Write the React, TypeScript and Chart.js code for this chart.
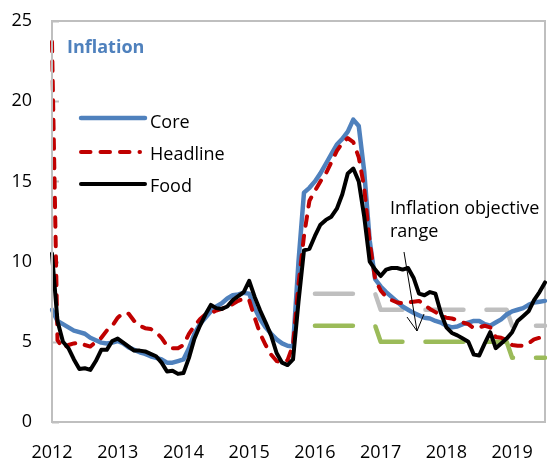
import React, { useEffect, useRef } from 'react';
import { Chart, registerables } from 'chart.js';

Chart.register(...registerables);

const FONT = '"Open Sans", "Noto Sans", sans-serif';

// Monthly categories, Jan 2012 .. Jul 2019
const START_YEAR = 2012;
const MONTH_COUNT = 91;
const months: string[] = [];
for (let i = 0; i < MONTH_COUNT; i++) {
  const y = START_YEAR + Math.floor(i / 12);
  const m = (i % 12) + 1;
  months.push(`${y}-${m < 10 ? '0' + m : m}`);
}

const seriesNames = ['Core', 'Headline', 'Food'];
const titleText = 'Inflation';
const annotationLines = ['Inflation objective', 'range'];

const core = [
  7.0, 6.3, 6.1, 5.9, 5.7, 5.6, 5.5, 5.25, 5.1, 4.95, 4.9, 4.95,
  5.05, 4.9, 4.65, 4.5, 4.35, 4.25, 4.1, 4.0, 3.9, 3.7, 3.7, 3.8,
  3.9, 4.6, 5.5, 6.1, 6.5, 6.9, 7.2, 7.4, 7.7, 7.9, 7.95, 8.05,
  8.0, 7.1, 6.4, 5.9, 5.5, 5.15, 4.9, 4.75, 4.7, 10.0, 14.3, 14.6,
  15.0, 15.5, 16.1, 16.7, 17.3, 17.65, 18.1, 18.85, 18.45, 15.6, 11.3, 8.9,
  8.45, 8.1, 7.8, 7.5, 7.2, 7.0, 6.8, 6.65, 6.5, 6.45, 6.3, 6.2,
  6.0, 5.9, 5.95, 6.1, 6.2, 6.3, 6.3, 6.1, 6.0, 6.2, 6.4, 6.7,
  6.9, 7.0, 7.1, 7.3, 7.45, 7.5, 7.55,
];

const headline = [
  23.7, 5.1, 4.6, 4.8, 4.9, 4.95, 4.8, 4.7, 5.0, 5.25, 5.7, 6.0,
  6.5, 6.8, 6.75, 6.3, 6.0, 5.85, 5.8, 5.6, 5.25, 4.75, 4.6, 4.6,
  4.8, 5.5, 6.0, 6.4, 6.7, 6.8, 6.95, 7.05, 7.2, 7.35, 7.55, 7.7,
  7.6, 6.5, 5.5, 4.8, 4.2, 3.8, 3.7, 3.85, 4.8, 8.6, 11.6, 13.8,
  14.4, 15.0, 15.5, 16.2, 16.9, 17.4, 17.7, 17.45, 16.5, 14.6, 11.2, 8.9,
  8.2, 7.8, 7.6, 7.45, 7.4, 7.45, 7.5, 7.55, 7.3, 7.05, 6.85, 6.65,
  6.5, 6.45, 6.35, 6.2, 6.1, 5.85, 5.9, 6.0, 5.9, 5.3, 5.25, 5.1,
  4.8, 4.75, 4.75, 4.9, 5.15, 5.25, 5.25,
];

const food = [
  10.5, 6.3, 5.0, 4.6, 3.9, 3.3, 3.35, 3.25, 3.8, 4.5, 4.5, 5.05,
  5.2, 4.95, 4.7, 4.45, 4.45, 4.4, 4.25, 4.1, 3.7, 3.15, 3.2, 3.0,
  3.05, 4.0, 5.2, 6.0, 6.7, 7.3, 7.1, 7.05, 7.2, 7.6, 7.85, 8.1,
  8.8, 7.8, 6.95, 6.2, 5.4, 4.3, 3.7, 3.55, 3.9, 7.5, 10.7, 10.8,
  11.6, 12.3, 12.6, 12.8, 13.3, 14.2, 15.5, 15.8, 15.0, 12.8, 10.0, 9.5,
  9.1, 9.5, 9.6, 9.6, 9.5, 9.6, 9.0, 8.0, 7.9, 8.1, 8.0, 6.8,
  5.9, 5.55, 5.4, 5.2, 5.0, 4.2, 4.15, 4.9, 5.6, 4.6, 4.9, 5.2,
  5.6, 6.3, 6.6, 6.9, 7.6, 8.1, 8.7,
];

// Inflation objective range (upper and lower bounds)
const rangeUpper = [
  { x: '2016-01', y: 8 }, { x: '2016-12', y: 8 },
  { x: '2017-01', y: 7 }, { x: '2018-12', y: 7 },
  { x: '2019-01', y: 6 }, { x: '2019-07', y: 6 },
];
const rangeLower = [
  { x: '2016-01', y: 6 }, { x: '2016-12', y: 6 },
  { x: '2017-01', y: 5 }, { x: '2018-12', y: 5 },
  { x: '2019-01', y: 4 }, { x: '2019-07', y: 4 },
];

const yTicks = { min: 0, max: 25, step: 5 };

const COLORS = {
  core: '#4F81BD',
  headline: '#C00000',
  food: '#000000',
  upper: '#BFBFBF',
  lower: '#9BBB59',
  axis: '#BFBFBF',
  text: '#000000',
};

const overlayPlugin = {
  id: 'overlay',
  beforeDatasetsDraw(chart: any) {
    const { ctx, chartArea: ca, scales } = chart;
    ctx.save();
    ctx.strokeStyle = COLORS.axis;
    ctx.lineWidth = 2;
    ctx.beginPath();
    ctx.moveTo(ca.left, ca.top);
    ctx.lineTo(ca.right, ca.top);
    ctx.lineTo(ca.right, ca.bottom);
    ctx.stroke();
    const ys = scales.y;
    ctx.beginPath();
    ys.ticks.forEach((t: any) => {
      const py = Math.round(ys.getPixelForValue(t.value)) + 0.5;
      ctx.moveTo(ca.left, py);
      ctx.lineTo(ca.left + 7, py);
    });
    ctx.stroke();
    ctx.restore();
  },
  afterDraw(chart: any) {
    const { ctx, chartArea: ca } = chart;
    const L = ca.left;
    const T = ca.top;
    ctx.save();
    // Title
    ctx.font = `bold 18px ${FONT}`;
    ctx.fillStyle = COLORS.core;
    ctx.textBaseline = 'alphabetic';
    ctx.textAlign = 'left';
    ctx.fillText(titleText, L + 15, T + 32);

    // Legend
    const order = [2, 1, 0]; // dataset indices: Core, Headline, Food
    const lineYs = [T + 97, T + 131, T + 163];
    const textYs = [T + 107, T + 139, T + 171];
    order.forEach((di, i) => {
      const ds = chart.data.datasets[di];
      ctx.save();
      ctx.strokeStyle = ds.borderColor;
      ctx.lineWidth = ds.borderWidth;
      ctx.lineCap = 'round';
      ctx.setLineDash(ds.borderDash || []);
      ctx.beginPath();
      const x0 = L + 29;
      const x1 = ds.borderDash ? L + 88 : L + 93;
      ctx.moveTo(x0, lineYs[i]);
      ctx.lineTo(x1, lineYs[i]);
      ctx.stroke();
      ctx.restore();
      ctx.font = `18px ${FONT}`;
      ctx.fillStyle = COLORS.text;
      ctx.fillText(ds.label, L + 98, textYs[i]);
    });

    // Annotation text and arrow
    ctx.font = `18px ${FONT}`;
    ctx.fillStyle = COLORS.text;
    ctx.fillText(annotationLines[0], L + 338, T + 193);
    ctx.fillText(annotationLines[1], L + 338, T + 216);
    ctx.strokeStyle = '#000';
    ctx.lineWidth = 1;
    ctx.beginPath();
    const ax0 = L + 352, ay0 = T + 231, ax1 = L + 365, ay1 = T + 310;
    ctx.moveTo(ax0, ay0);
    ctx.lineTo(ax1, ay1);
    ctx.moveTo(L + 355, T + 296);
    ctx.lineTo(ax1, ay1);
    ctx.lineTo(L + 372, T + 293);
    ctx.stroke();
    ctx.restore();
  },
};

export default function App() {
  const ref = useRef<HTMLCanvasElement | null>(null);

  useEffect(() => {
    document.body.style.margin = '0';
    document.body.style.overflow = 'hidden';
    const canvas = ref.current;
    if (!canvas) return;
    const base = {
      pointRadius: 0,
      pointHoverRadius: 0,
      tension: 0,
      fill: false,
      borderJoinStyle: 'round' as const,
      borderCapStyle: 'round' as const,
    };
    const chart = new Chart(canvas, {
      type: 'line',
      data: {
        labels: months,
        datasets: [
          { ...base, label: seriesNames[2], data: food, borderColor: COLORS.food, borderWidth: 4 },
          { ...base, label: seriesNames[1], data: headline, borderColor: COLORS.headline, borderWidth: 4, borderDash: [9.5, 10] },
          { ...base, label: seriesNames[0], data: core, borderColor: COLORS.core, borderWidth: 4.5 },
          { ...base, label: 'Upper', data: rangeUpper as any, borderColor: COLORS.upper, borderWidth: 4.5, borderDash: [38, 23] },
          { ...base, label: 'Lower', data: rangeLower as any, borderColor: COLORS.lower, borderWidth: 4.5, borderDash: [38, 23] },
        ],
      },
      options: {
        responsive: false,
        animation: false,
        devicePixelRatio: 1,
        layout: { autoPadding: false, padding: { top: 21, right: 3, left: 0, bottom: 0 } },
        plugins: {
          legend: { display: false },
          tooltip: { enabled: false },
          title: { display: false },
        },
        scales: {
          x: {
            type: 'category',
            offset: false,
            grid: { display: false, drawTicks: false },
            border: { display: true, color: COLORS.axis, width: 2 },
            ticks: {
              autoSkip: false,
              maxRotation: 0,
              minRotation: 0,
              padding: 20,
              color: COLORS.text,
              font: { family: FONT, size: 18 },
              callback: (_v: any, i: number) =>
                months[i] && months[i].endsWith('-01') ? months[i].slice(0, 4) : '',
            },
            afterFit: (s: any) => {
              s.height = 40;
              s.paddingLeft = 0;
              s.paddingRight = 0;
              s.paddingTop = 0;
              s.paddingBottom = 0;
            },
          },
          y: {
            min: yTicks.min,
            max: yTicks.max,
            grid: { display: false, drawTicks: false },
            border: { display: true, color: COLORS.axis, width: 2, z: 1 },
            ticks: {
              stepSize: yTicks.step,
              padding: 20,
              color: COLORS.text,
              font: { family: FONT, size: 18 },
            },
            afterFit: (s: any) => {
              s.width = 52;
              s.paddingLeft = 0;
              s.paddingRight = 0;
              s.paddingTop = 0;
              s.paddingBottom = 0;
            },
          },
        },
      },
      plugins: [overlayPlugin],
    });
    return () => chart.destroy();
  }, []);

  return (
    <div style={{ width: 548, height: 462 }}>
      <canvas ref={ref} width={548} height={462} style={{ display: 'block' }} />
    </div>
  );
}
